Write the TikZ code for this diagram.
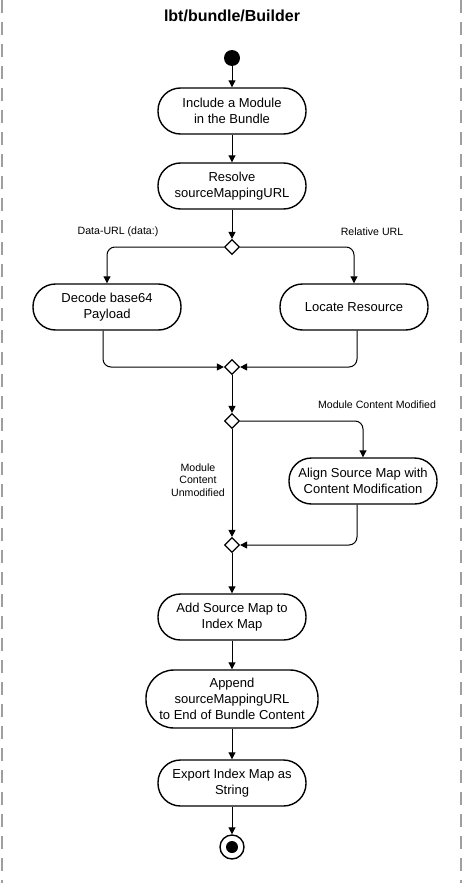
\documentclass[tikz,border=0pt]{standalone}
\usepackage{fontspec}
\setmainfont{Liberation Sans}
\usetikzlibrary{arrows.meta,shapes.geometric,calc}
\begin{document}
\begin{tikzpicture}[x=1pt,y=-1pt,
  act/.style={draw, line width=1.4pt, rounded corners=22.5pt, minimum width=148pt, minimum height=46pt, align=center, inner sep=2pt, font=\fontsize{13}{16}\selectfont},
  dec/.style={draw, diamond, line width=1.2pt, minimum width=15pt, minimum height=15pt, inner sep=0pt, fill=white},
  flow/.style={line width=1pt, -{Triangle[length=7pt,width=7pt]}, rounded corners=8pt},
  lbl/.style={font=\fontsize{10.6}{12.5}\selectfont, align=center, text=black},
  border/.style={draw=gray!75, line width=1.5pt, dash pattern=on 13pt off 9pt}]
\useasboundingbox (0,0) rectangle (463,883);
\draw[border] (2,0) -- (2,883);
\draw[border] (461,0) -- (461,883);
\node[font=\bfseries\fontsize{16}{19}\selectfont] (title) at (232,16) {lbt/bundle/Builder};
\node[circle, fill=black, minimum size=16pt, inner sep=0pt] (start) at (232,58) {};
\node[act] (a1) at (232,111) {Include a Module\\in the Bundle};
\node[act] (a2) at (232,186) {Resolve\\sourceMappingURL};
\node[dec] (d1) at (232,247) {};
\node[act] (a3) at (107,307) {Decode base64\\Payload};
\node[act] (a4) at (354,307) {Locate Resource};
\node[dec] (m1) at (232,367) {};
\node[dec] (d2) at (232,421) {};
\node[act] (a5) at (363,481) {Align Source Map with\\Content Modification};
\node[dec] (m2) at (232,545) {};
\node[act] (a6) at (232,617) {Add Source Map to\\Index Map};
\node[act, minimum width=172pt, minimum height=58pt, rounded corners=28pt] (a7) at (232,699) {Append\\sourceMappingURL\\to End of Bundle Content};
\node[act] (a8) at (232,783) {Export Index Map as\\String};
\node[circle, draw, line width=1.4pt, minimum size=24pt, inner sep=0pt] (end) at (232,847) {};
\node[circle, fill=black, minimum size=12pt, inner sep=0pt] (endc) at (end.center) {};
\node[lbl] (l1) at (118,232) {Data-URL (data:)};
\node[lbl] (l2) at (372,232) {Relative URL};
\node[lbl] (l3) at (377,405) {Module Content Modified};
\node[lbl] (l4) at (198,480) {Module\\Content\\Unmodified};
\draw[flow] (start) -- (a1);
\draw[flow] (a1) -- (a2);
\draw[flow] (a2) -- (d1);
\draw[flow] (d1.west) -| (a3.north);
\draw[flow] (d1.east) -| (a4.north);
\draw[flow] ([xshift=-4pt]a3.south) |- (m1.west);
\draw[flow] ([xshift=3pt]a4.south) |- (m1.east);
\draw[flow] (m1) -- (d2);
\draw[flow] (d2.east) -| (a5.north);
\draw[flow] (d2) -- (m2);
\draw[flow] ([xshift=-6pt]a5.south) |- (m2.east);
\draw[flow] (m2) -- (a6);
\draw[flow] (a6) -- (a7);
\draw[flow] (a7) -- (a8);
\draw[flow] (a8) -- (end);
\end{tikzpicture}
\end{document}
